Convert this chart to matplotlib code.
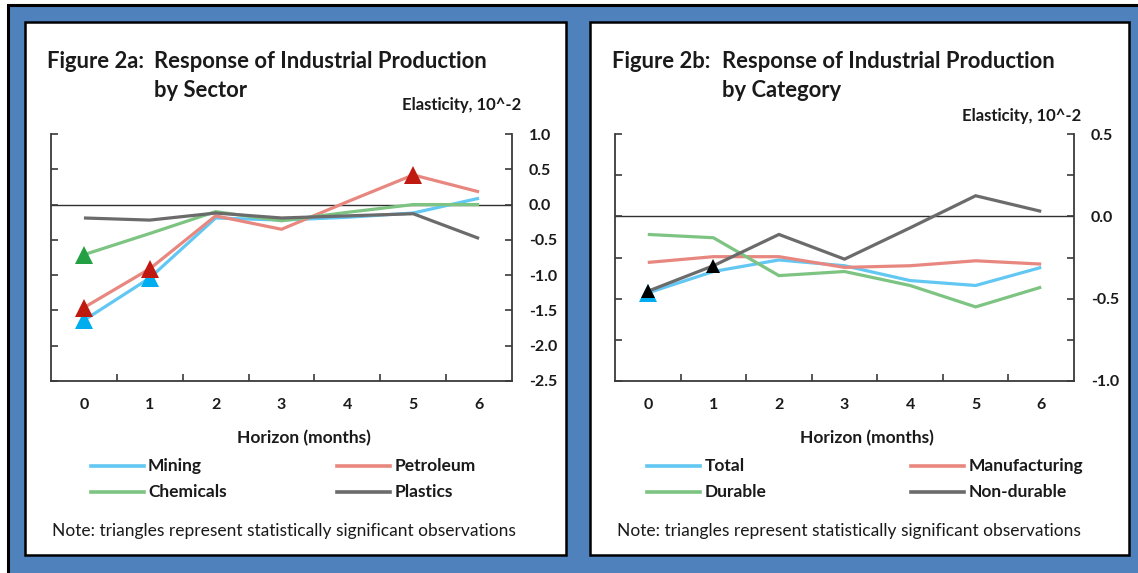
import matplotlib
matplotlib.use("Agg")
import matplotlib.pyplot as plt
from matplotlib.patches import Rectangle
from matplotlib.lines import Line2D
from matplotlib.ticker import FixedLocator, NullFormatter, FixedFormatter

# ---- data -------------------------------------------------------------
horizon = [0, 1, 2, 3, 4, 5, 6]
horizon_labels = ["0", "1", "2", "3", "4", "5", "6"]

mining = [-1.64, -1.04, -0.19, -0.22, -0.18, -0.12, 0.09]
petroleum = [-1.46, -0.91, -0.16, -0.35, 0.04, 0.42, 0.18]
chemicals = [-0.71, -0.41, -0.10, -0.23, -0.11, 0.00, 0.00]
plastics = [-0.19, -0.22, -0.12, -0.19, -0.16, -0.13, -0.48]

mining_sig = [True, True, False, False, False, False, False]
petroleum_sig = [True, True, False, False, False, True, False]
chemicals_sig = [True, False, False, False, False, False, False]
plastics_sig = [False] * 7

total = [-0.465, -0.335, -0.265, -0.30, -0.39, -0.42, -0.31]
manufacturing = [-0.28, -0.245, -0.245, -0.31, -0.30, -0.27, -0.29]
durable = [-0.11, -0.13, -0.36, -0.335, -0.42, -0.55, -0.43]
nondurable = [-0.455, -0.30, -0.11, -0.26, -0.07, 0.125, 0.03]

total_sig = [True, False, False, False, False, False, False]
manufacturing_sig = [False] * 7
durable_sig = [False] * 7
nondurable_sig = [True, True, False, False, False, False, False]

left_ticks = [1.0, 0.5, 0.0, -0.5, -1.0, -1.5, -2.0, -2.5]
right_ticks = [0.5, 0.0, -0.5, -1.0]
right_minor = [0.25, -0.25, -0.75]

# ---- styling ----------------------------------------------------------
W, H = 1138, 573
BG = "#4F81BD"
C_BLUE, C_RED, C_GREEN, C_GRAY = "#62C8F3", "#E8877F", "#7DC482", "#6B6B6B"
M_BLUE, M_RED, M_GREEN, M_BLACK = "#00AEEF", "#C01A10", "#22A043", "#000000"
FONT = "Lato"
AX_COL = "#3A3A3A"
TXT_COL = "#1A1A1A"

plt.rcParams["font.family"] = [FONT, "DejaVu Sans"]

fig = plt.figure(figsize=(W / 100, H / 100), dpi=100)
fig.patch.set_facecolor("white")


def fx(x):
    return x / W


def fy(y):
    return 1 - y / H


def rect(x0, y0, x1, y1, **kw):
    fig.add_artist(Rectangle((fx(x0), fy(y1)), fx(x1) - fx(x0), fy(y0) - fy(y1),
                             transform=fig.transFigure, **kw))


# blue backdrop with black outline, and two white panels
rect(8, 5, W + 5, H + 5, facecolor=BG, edgecolor="black", linewidth=2.2, zorder=0)
rect(25, 22, 566, 555, facecolor="white", edgecolor="black", linewidth=1.8, zorder=1)
rect(590, 22, 1129, 555, facecolor="white", edgecolor="black", linewidth=1.8, zorder=1)


def make_axes(x0, x1, y0, y1, ylim, major, minor, labels):
    ax = fig.add_axes([fx(x0), fy(y1), fx(x1) - fx(x0), fy(y0) - fy(y1)], zorder=3)
    ax.set_facecolor("none")
    ax.set_xlim(-0.5, 6.5)
    ax.set_ylim(*ylim)
    ax.spines["top"].set_visible(False)
    for s in ("left", "right", "bottom"):
        ax.spines[s].set_color(AX_COL)
        ax.spines[s].set_linewidth(1.3)
    # x: tick marks between categories, labels at category centres
    ax.xaxis.set_major_locator(FixedLocator([0.5, 1.5, 2.5, 3.5, 4.5, 5.5]))
    ax.xaxis.set_major_formatter(NullFormatter())
    ax.xaxis.set_minor_locator(FixedLocator(horizon))
    ax.xaxis.set_minor_formatter(FixedFormatter(horizon_labels))
    ax.tick_params(axis="x", which="major", direction="in", length=5, width=1.2, color=AX_COL)
    ax.tick_params(axis="x", which="minor", length=0, pad=12, labelsize=11.5,
                   labelcolor=TXT_COL)
    for t in ax.xaxis.get_minorticklabels():
        t.set_fontweight("bold")
    # y: inward ticks on both sides, labels on the right
    ax.yaxis.set_major_locator(FixedLocator(major))
    ax.yaxis.set_major_formatter(FixedFormatter(labels))
    ax.yaxis.set_minor_locator(FixedLocator(minor))
    ax.tick_params(axis="y", which="both", direction="in", length=5, width=1.2,
                   color=AX_COL, left=True, right=True, labelleft=False, labelright=True)
    ax.tick_params(axis="y", which="major", pad=12, labelsize=11.5, labelcolor=TXT_COL)
    for t in ax.yaxis.get_majorticklabels():
        t.set_fontweight("bold")
    ax.axhline(0, color="#303030", linewidth=1.0, zorder=1)
    return ax


def draw_series(ax, values, color):
    ax.plot(horizon, values, color=color, linewidth=2.3, solid_capstyle="butt",
            solid_joinstyle="miter", zorder=2)


def draw_sig(ax, values, sig, color, size):
    xs = [h for h, s in zip(horizon, sig) if s]
    ys = [v for v, s in zip(values, sig) if s]
    ax.plot(xs, ys, linestyle="none", marker="^", markersize=size, color=color,
            markeredgewidth=0, zorder=4)


# ---- left panel: by sector -------------------------------------------
axL = make_axes(51, 512, 134, 381, (-2.5, 1.0), left_ticks, [],
                [f"{v:.1f}" for v in left_ticks])
draw_series(axL, mining, C_BLUE)
draw_series(axL, petroleum, C_RED)
draw_series(axL, chemicals, C_GREEN)
draw_series(axL, plastics, C_GRAY)
draw_sig(axL, mining, mining_sig, M_BLUE, 12.5)
draw_sig(axL, petroleum, petroleum_sig, M_RED, 12.5)
draw_sig(axL, chemicals, chemicals_sig, M_GREEN, 12.5)

# ---- right panel: by category ----------------------------------------
axR = make_axes(615, 1074, 134, 381, (-1.0, 0.5), right_ticks, right_minor,
                [f"{v:.1f}" for v in right_ticks])
draw_series(axR, total, C_BLUE)
draw_series(axR, manufacturing, C_RED)
draw_series(axR, durable, C_GREEN)
draw_series(axR, nondurable, C_GRAY)
draw_sig(axR, total, total_sig, M_BLUE, 13.5)
draw_sig(axR, nondurable, nondurable_sig, M_BLACK, 9.5)


# ---- text --------------------------------------------------------------
def txt(x, y, s, size, weight="bold", ha="left"):
    fig.text(fx(x), fy(y), s, fontsize=size, fontweight=weight, ha=ha, va="baseline",
             color=TXT_COL, zorder=5)


def legend_row(x_line, x_text, y, label, color):
    fig.add_artist(Line2D([fx(x_line), fx(x_line + 53)], [fy(y - 5), fy(y - 5)],
                          transform=fig.transFigure, color=color, linewidth=2.6, zorder=5))
    txt(x_text, y, label, 12.5)


panels = [
    dict(x_fig=47, x_resp=154.5, sub="by Sector", fig_label="Figure 2a:", el_x=521.5, el_y=110,
         hor_x=304, leg_x=(91, 148, 337, 395),
         labels=("Mining", "Petroleum", "Chemicals", "Plastics"), note_x=52.5),
    dict(x_fig=611.5, x_resp=722, sub="by Category", fig_label="Figure 2b:", el_x=1081, el_y=120.5,
         hor_x=867, leg_x=(647, 705, 911, 968.5),
         labels=("Total", "Manufacturing", "Durable", "Non-durable"), note_x=617),
]

for p in panels:
    txt(p["x_fig"], 68, p["fig_label"], 15.8)
    txt(p["x_resp"], 68, "Response of Industrial Production", 15.8)
    txt(p["x_resp"], 97, p["sub"], 15.8)
    txt(p["el_x"], p["el_y"], "Elasticity, 10^-2", 12, ha="right")
    txt(p["hor_x"], 443, "Horizon (months)", 12.5, ha="center")
    lx1, tx1, lx2, tx2 = p["leg_x"]
    a, b, c, d = p["labels"]
    legend_row(lx1, tx1, 471, a, C_BLUE)
    legend_row(lx2, tx2, 471, b, C_RED)
    legend_row(lx1, tx1, 497, c, C_GREEN)
    legend_row(lx2, tx2, 497, d, C_GRAY)
    txt(p["note_x"], 536, "Note: triangles represent statistically significant observations",
        12.5, weight="normal")

fig.savefig("out.png", dpi=100, facecolor=fig.get_facecolor())
